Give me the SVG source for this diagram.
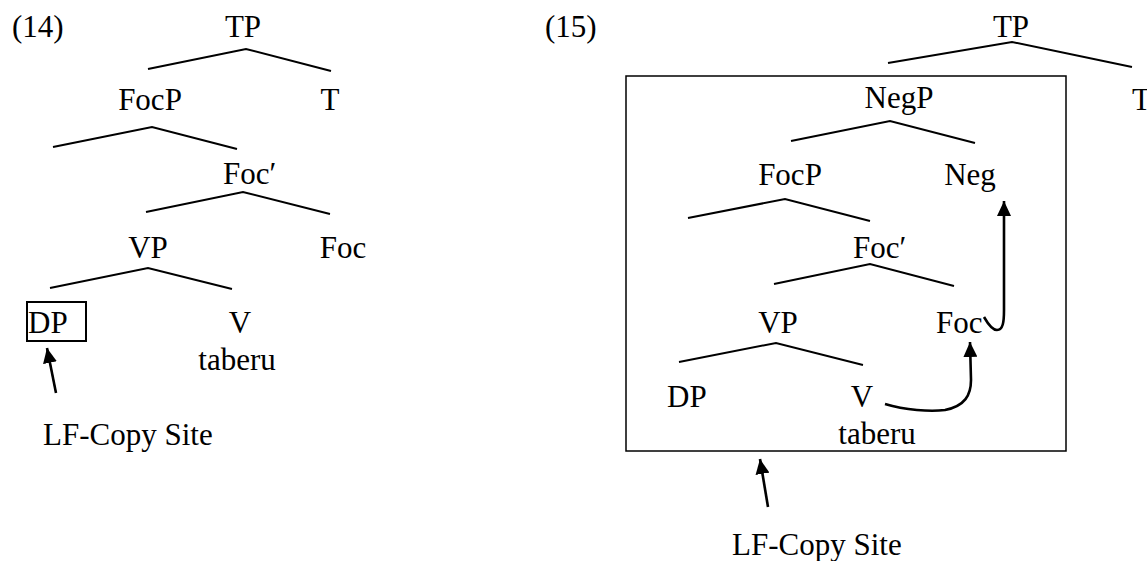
<svg xmlns="http://www.w3.org/2000/svg" width="1147" height="561" viewBox="0 0 1147 561">
<style>
text{font-size:31px;fill:#000}
.m{text-anchor:middle}
.br{stroke:#000;stroke-width:2;fill:none;stroke-linecap:butt}
.ar{stroke:#000;stroke-width:2.6;fill:none;marker-end:url(#ah)}
.box{fill:none;stroke:#000}
</style>
<defs>
<marker id="ah" viewBox="0 0 15 14" refX="15" refY="7" markerWidth="15" markerHeight="14" markerUnits="userSpaceOnUse" orient="auto">
<path d="M0,0 L15,7 L0,14 z" fill="#000"/>
</marker>
</defs>
<rect width="1147" height="561" fill="#fff"/>
<g font-family="'Liberation Serif', 'DejaVu Serif', serif">
<g id="label14"><text x="12" y="37">(14)</text></g>
<g id="t14-TP"><text class="m" x="243" y="37">TP</text></g>
<g id="t14-FocP"><text class="m" x="150" y="110">FocP</text></g>
<g id="t14-T"><text class="m" x="330" y="110">T</text></g>
<g id="t14-FocBar"><text x="223" y="184">Foc′</text></g>
<g id="t14-VP"><text class="m" x="148" y="258">VP</text></g>
<g id="t14-Foc"><text class="m" x="343" y="258">Foc</text></g>
<g id="t14-DP"><rect class="box" x="27" y="302" width="59" height="39" stroke-width="2"/><text x="28" y="333">DP</text></g>
<g id="t14-V"><text class="m" x="240" y="333">V</text><text class="m" x="237" y="370">taberu</text></g>
<g id="t14-LF"><text x="43" y="445">LF-Copy Site</text></g>

<g id="label15"><text x="545" y="37">(15)</text></g>
<g id="t15-TP"><text class="m" x="1011" y="37">TP</text></g>
<g id="t15-T"><text x="1132" y="110">T</text></g>
<g id="t15-box"><rect class="box" x="626" y="76" width="440" height="375" stroke-width="1.5"/></g>
<g id="t15-NegP"><text class="m" x="899" y="108">NegP</text></g>
<g id="t15-FocP"><text class="m" x="790" y="185">FocP</text></g>
<g id="t15-Neg"><text class="m" x="970" y="185">Neg</text></g>
<g id="t15-FocBar"><text x="853" y="258">Foc′</text></g>
<g id="t15-VP"><text class="m" x="778" y="333">VP</text></g>
<g id="t15-Foc"><text x="936" y="333">Foc</text></g>
<g id="t15-DP"><text x="667" y="407">DP</text></g>
<g id="t15-V"><text class="m" x="862" y="407">V</text><text class="m" x="877" y="444">taberu</text></g>
<g id="t15-LF"><text x="732" y="555">LF-Copy Site</text></g>
</g>

<g id="connectors">
<polyline class="br" points="148,69 246,49 331,71"/>
<polyline class="br" points="53,147 152,127 237,149"/>
<polyline class="br" points="146,212 243,192 330,214"/>
<polyline class="br" points="50,288 148,268 232,289"/>
<path class="ar" d="M56,393 L47,348"/>

<polyline class="br" points="888,63 1012,42 1132,67"/>
<polyline class="br" points="791,141 890,121 975,143"/>
<polyline class="br" points="688,218 785,199 870,221"/>
<polyline class="br" points="774,284 870,264 954,286"/>
<polyline class="br" points="679,362 776,343 863,365"/>
<path class="ar" d="M984,317 C988,324 992,330 997,330 C1003,330 1004,322 1004,310 L1004,201"/>
<path class="ar" d="M885,404 C905,410 930,412 945,410 C965,406 971,395 971,380 L970,342"/>
<path class="ar" d="M768,507 L760,459"/>
</g>
</svg>
